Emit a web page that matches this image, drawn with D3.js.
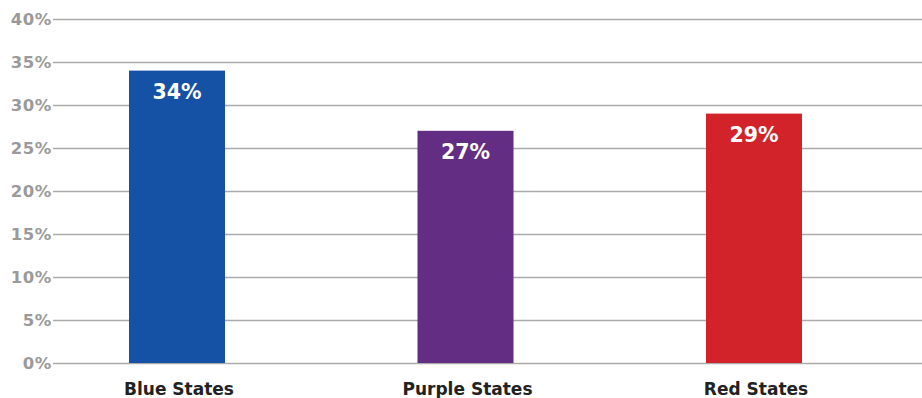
<!DOCTYPE html>
<html>
<head>
<meta charset="utf-8">
<script src="https://cdn.jsdelivr.net/npm/d3@7"></script>
<style>
  html, body { margin: 0; padding: 0; background: #fff; }
  svg { display: block; }
</style>
</head>
<body>
<svg id="chart" width="922" height="398"></svg>
<script>
// Share of respondents by state group
const categories = ["Blue States", "Purple States", "Red States"];
const values = [34, 27, 29];
const barColors = ["#1552a5", "#642d84", "#d2232a"];
const tickValues = [0, 5, 10, 15, 20, 25, 30, 35, 40];
const tickLabels = ["0%", "5%", "10%", "15%", "20%", "25%", "30%", "35%", "40%"];

const width = 922, height = 398;
const fontStack = "'DejaVu Sans', Verdana, sans-serif";
const svg = d3.select("#chart");

const y = d3.scaleLinear().domain([0, 40]).range([363, 19]);
const x = d3.scaleBand().domain(categories).range([32.75, 898.25])
  .paddingInner(0.6672).paddingOuter(0.3336);

// Horizontal gridlines with percentage labels
const yAxis = d3.axisLeft(y)
  .tickValues(tickValues)
  .tickFormat((d, i) => tickLabels[i])
  .tickSize(-(width - 53))
  .tickPadding(1);

const gAxis = svg.append("g")
  .attr("transform", "translate(53,0)")
  .call(yAxis);
gAxis.select(".domain").remove();
gAxis.selectAll(".tick line")
  .attr("stroke", "#aaaaaa")
  .attr("stroke-width", 1.5);
gAxis.selectAll(".tick text")
  .attr("fill", "#9a9a9a")
  .attr("font-family", fontStack)
  .attr("font-weight", 700)
  .attr("font-size", "16.5px")
  .attr("letter-spacing", "0.6px")
  .attr("dy", "0.36em");

// Bars
svg.append("g").selectAll("rect")
  .data(values)
  .join("rect")
  .attr("x", (d, i) => x(categories[i]))
  .attr("y", d => y(d))
  .attr("width", x.bandwidth())
  .attr("height", d => y(0) - y(d))
  .attr("fill", (d, i) => barColors[i]);

// Value labels inside the bars
svg.append("g").selectAll("text")
  .data(values)
  .join("text")
  .attr("x", (d, i) => x(categories[i]) + x.bandwidth() / 2)
  .attr("y", d => y(d) + 28)
  .attr("text-anchor", "middle")
  .attr("fill", "#ffffff")
  .attr("font-family", fontStack)
  .attr("font-weight", 700)
  .attr("font-size", "20.5px")
  .text(d => d + "%");

// Category labels
const xAxis = d3.axisBottom(x).tickSize(0).tickPadding(0);
const gx = svg.append("g")
  .attr("transform", "translate(2,395)")
  .call(xAxis);
gx.select(".domain").remove();
gx.selectAll(".tick text")
  .attr("dy", 0)
  .attr("fill", "#222222")
  .attr("font-family", fontStack)
  .attr("font-weight", 700)
  .attr("font-size", "17px");
</script>
</body>
</html>
